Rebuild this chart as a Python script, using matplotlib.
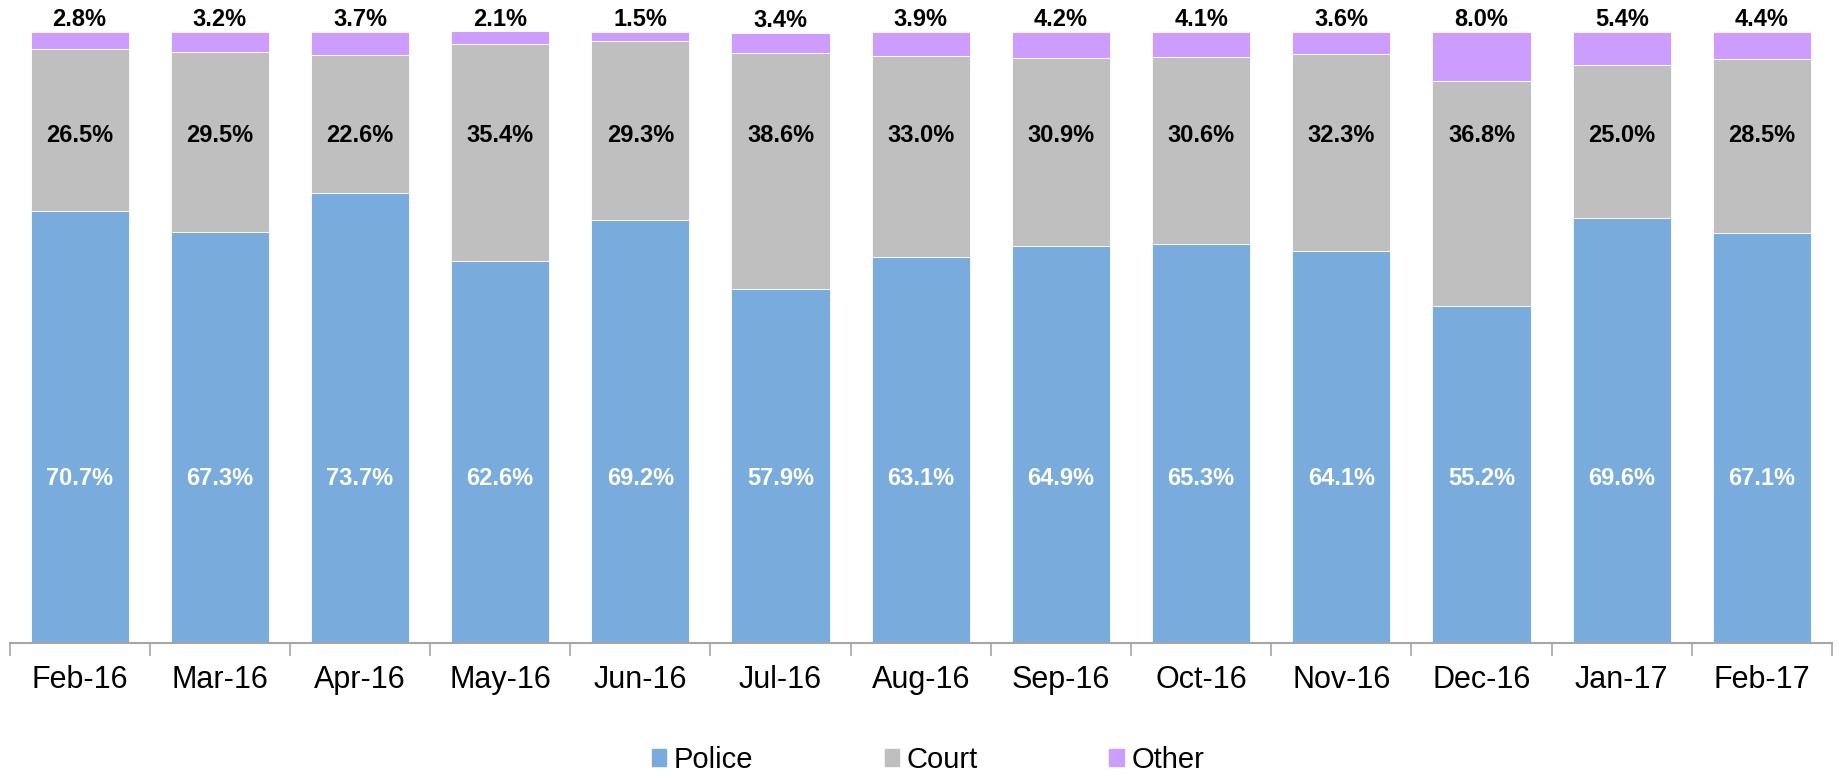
import matplotlib
matplotlib.use("Agg")
import matplotlib.pyplot as plt
import numpy as np
from matplotlib.patches import Patch

# ===== ДАННЫЕ =====
months = ["Feb-16", "Mar-16", "Apr-16", "May-16", "Jun-16", "Jul-16", "Aug-16",
          "Sep-16", "Oct-16", "Nov-16", "Dec-16", "Jan-17", "Feb-17"]
police = [70.7, 67.3, 73.7, 62.6, 69.2, 57.9, 63.1, 64.9, 65.3, 64.1, 55.2, 69.6, 67.1]
court = [26.5, 29.5, 22.6, 35.4, 29.3, 38.6, 33.0, 30.9, 30.6, 32.3, 36.8, 25.0, 28.5]
other = [2.8, 3.2, 3.7, 2.1, 1.5, 3.4, 3.9, 4.2, 4.1, 3.6, 8.0, 5.4, 4.4]

# ===== НАСТРОЙКИ =====
C_POLICE = "#79acdc"
C_COURT = "#bfbfbf"
C_OTHER = "#cc9dff"
plt.rcParams["font.family"] = ["Liberation Sans", "DejaVu Sans"]

fig = plt.figure(figsize=(18.39, 7.76), dpi=100)
ax = fig.add_axes([9.5 / 1839, 1 - 643 / 776, (1832 - 9.5) / 1839, (643 - 32) / 776])

x = np.arange(len(months))
p = np.array(police)
c = np.array(court)
o = np.array(other)
w = 0.7
ax.bar(x, p, w, color=C_POLICE, edgecolor="white", linewidth=0.6)
ax.bar(x, c, w, bottom=p, color=C_COURT, edgecolor="white", linewidth=0.6)
ax.bar(x, o, w, bottom=p + c, color=C_OTHER, edgecolor="white", linewidth=0.6)

# подписи
for i in x:
    ax.text(i, 27, f"{police[i]:.1f}%", ha="center", va="center",
            color="white", fontsize=17, fontweight="bold")
    ax.text(i, 83, f"{court[i]:.1f}%", ha="center", va="center",
            color="black", fontsize=17, fontweight="bold")
    ax.text(i, p[i] + c[i] + o[i] + 0.1, f"{other[i]:.1f}%", ha="center", va="bottom",
            color="black", fontsize=17, fontweight="bold", clip_on=False)

ax.set_xlim(-0.5, len(months) - 0.5)
ax.set_ylim(0, 100)
ax.set_yticks([])
ax.set_xticks(x)
ax.set_xticklabels(months, fontsize=22)
ax.tick_params(axis="x", which="major", length=0, pad=16)
ax.set_xticks(np.arange(len(months) + 1) - 0.5, minor=True)
ax.tick_params(axis="x", which="minor", length=9, width=1.2, color="#a6a6a6")
for s in ["top", "right", "left"]:
    ax.spines[s].set_visible(False)
ax.spines["bottom"].set_color("#a6a6a6")
ax.spines["bottom"].set_linewidth(1.5)

handles = [Patch(color=C_POLICE, label="Police"),
           Patch(color=C_COURT, label="Court"),
           Patch(color=C_OTHER, label="Other")]
fig.legend(handles=handles, loc="center", bbox_to_anchor=(928 / 1839, 1 - 760 / 776),
           ncol=3, frameon=False, fontsize=21, handlelength=0.5, handleheight=0.5,
           handletextpad=0.26, columnspacing=4.5)

fig.savefig("out.png", dpi=100)
